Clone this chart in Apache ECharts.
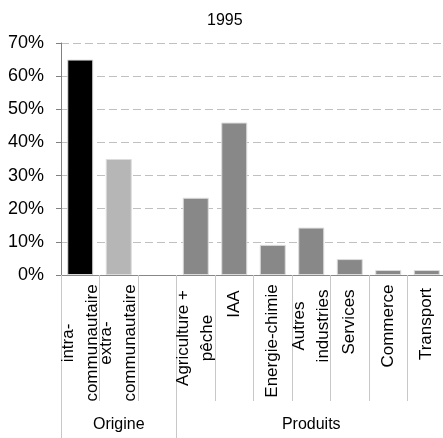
<!DOCTYPE html>
<html>
<head>
<meta charset="utf-8">
<script src="https://cdn.jsdelivr.net/npm/echarts@6/dist/echarts.min.js"></script>
<style>
html,body{margin:0;padding:0;background:#fff;}
#chart{width:443px;height:438px;}
</style>
</head>
<body>
<div id="chart"></div>
<script>
const title = '1995';
const categories = ['intra-\ncommunautaire', 'extra-\ncommunautaire', '', 'Agriculture +\npêche', 'IAA', 'Energie-chimie', 'Autres\nindustries', 'Services', 'Commerce', 'Transport'];
const values = [65, 35, null, 23.3, 46, 9.1, 14.3, 4.8, 1.5, 1.5];
const groupLabels = ['', 'Origine', '', '', '', '', 'Produits', '', '', ''];
const groupStarts = [0, 3];
const yTicks = [0, 10, 20, 30, 40, 50, 60, 70];

// styling only
const barColors = ['#000000', '#b6b6b6', '#888888', '#888888', '#888888', '#888888', '#888888', '#888888', '#888888', '#888888'];
const labelShift = [10, 10, 0, 5, -29, 8, -7, -11, -7, -9]; // px shift of rotated label centre (away from axis = +)
const FONT = 'Liberation Sans, Arial, sans-serif';

const rich = {t: {fontFamily: FONT, fontSize: 17, lineHeight: 24, color: '#000'}};
labelShift.forEach(function (d) {
  const w = Math.abs(d) * 2;
  if (w > 0) rich['s' + w] = {width: w, fontSize: 17, lineHeight: 24};
});

function catFormatter(value, index) {
  if (!value) return '';
  const d = labelShift[index] || 0;
  const w = Math.abs(d) * 2;
  const sp = w > 0 ? '{s' + w + '| }' : '';
  return value.split('\n').map(function (line) {
    return d >= 0 ? '{t|' + line + '}' + sp : sp + '{t|' + line + '}';
  }).join('\n');
}

const chart = echarts.init(document.getElementById('chart'), null, {renderer: 'canvas'});
chart.setOption({
  animation: false,
  backgroundColor: '#ffffff',
  title: {
    text: title,
    left: 202,
    top: 8,
    textStyle: {fontFamily: FONT, fontSize: 16, fontWeight: 'normal', color: '#000'}
  },
  grid: {left: 61, top: 43, width: 385, bottom: 163, containLabel: false, outerBoundsMode: 'none'},
  xAxis: [{
    type: 'category',
    data: categories,
    boundaryGap: true,
    axisLine: {show: true, lineStyle: {color: '#888888', width: 1}},
    axisTick: {show: true, interval: 0, length: 126, lineStyle: {color: '#c8c8c8', width: 1}},
    axisLabel: {
      interval: 0,
      rotate: 90,
      margin: 58,
      align: 'center',
      verticalAlign: 'middle',
      hideOverlap: false,
      fontFamily: FONT,
      fontSize: 17,
      lineHeight: 24,
      color: '#000',
      formatter: catFormatter,
      rich: rich
    },
    splitLine: {show: false}
  }, {
    type: 'category',
    data: groupLabels,
    position: 'bottom',
    gridIndex: 0,
    boundaryGap: true,
    axisLine: {show: false},
    axisTick: {
      show: true,
      length: 163,
      interval: function (index) { return groupStarts.indexOf(index) >= 0; },
      lineStyle: {color: '#c8c8c8', width: 1}
    },
    axisLabel: {
      interval: 0,
      margin: 142,
      fontFamily: FONT,
      fontSize: 16,
      color: '#000'
    },
    splitLine: {show: false}
  }],
  yAxis: {
    type: 'value',
    min: yTicks[0],
    max: yTicks[yTicks.length - 1],
    interval: 10,
    axisLine: {show: true, lineStyle: {color: '#808080', width: 1}},
    axisTick: {show: true, length: 5, lineStyle: {color: '#808080'}},
    axisLabel: {
      margin: 17,
      formatter: '{value}%',
      fontFamily: FONT,
      fontSize: 18,
      color: '#000'
    },
    splitLine: {show: true, lineStyle: {color: '#c0c0c0', type: [8, 4], width: 1}}
  },
  series: [{
    type: 'bar',
    xAxisIndex: 0,
    barWidth: 26,
    data: values.map(function (v, i) {
      return {value: v, itemStyle: {color: barColors[i], borderColor: '#dcdcdc', borderWidth: 1}};
    })
  }]
});
</script>
</body>
</html>
